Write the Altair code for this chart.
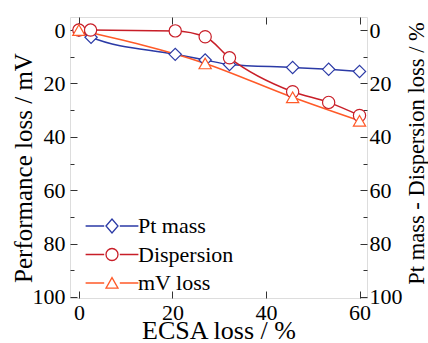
import altair as alt
import pandas as pd

# ECSA loss (%) and the three loss curves
ecsa_pt = [0, 2.6, 20.6, 27.0, 32.2, 45.7, 53.4, 60.0]
pt_mass = [0, 2.7, 9.1, 11.2, 12.9, 14.0, 14.7, 15.5]
ecsa_disp = [0, 2.5, 20.6, 27.0, 32.2, 45.7, 53.4, 60.0]
dispersion = [0, 0, 0.3, 2.5, 10.4, 23.1, 27.1, 32.0]
ecsa_mv = [0, 27.0, 45.7, 60.0]
mv_loss = [0, 12.5, 25.2, 34.0]

series_names = ["Pt mass", "Dispersion", "mV loss"]
series_colors = ["#2b3aa6", "#c81e28", "#ff5a28"]
plot_shapes = ["diamond", "circle", "triangle-up"]
# legend glyphs: marker with a short line on each side
legend_shapes = [
    "M-4.4,0H-1.3M1.3,0H4.4M-1,0L0,-1.17L1,0L0,1.17Z",
    "M-4.4,0H-1.3M1.3,0H4.4M1,0A1,1,0,1,1,-1,0A1,1,0,1,1,1,0Z",
    "M-4.4,0H-1.3M1.3,0H4.4M0,-0.9L-1,0.85L1,0.85Z",
]

y_major = [0, 20, 40, 60, 80, 100]
y_minor = [10, 30, 50, 70, 90]
x_major = [0, 20, 40, 60]

rows = []
for name, xs, ys in [("Pt mass", ecsa_pt, pt_mass),
                     ("Dispersion", ecsa_disp, dispersion),
                     ("mV loss", ecsa_mv, mv_loss)]:
    for a, b in zip(xs, ys):
        rows.append({"series": name, "ecsa": a, "loss": b})
df = pd.DataFrame(rows)

FONT = "Liberation Serif"
x_scale = alt.Scale(domain=[-1.9, 61.6], nice=False, zero=False)
y_scale = alt.Scale(domain=[-4.9, 100.4], reverse=True, nice=False, zero=False)
col_scale = alt.Scale(domain=series_names, range=series_colors)


def axis(orient, values, size, labels=True, title=None, **kw):
    # ticks point into the plot (negative tick length)
    return alt.Axis(
        orient=orient, values=values, domain=False, grid=False,
        ticks=True, tickSize={"expr": str(-size)}, tickColor="#333333",
        tickWidth=1, labels=labels, labelFont=FONT, labelFontSize=22,
        labelColor="black", title=title, titleFont=FONT,
        titleFontWeight="normal", titleColor="black", **kw)


lines = alt.Chart(df).mark_line(interpolate="monotone", strokeWidth=1.5).encode(
    x=alt.X("ecsa:Q", scale=x_scale,
            axis=axis("bottom", x_major, 7, title="ECSA loss / %",
                      labelPadding=11.5, titleFontSize=26,
                      titleX=148.5, titleY=40, titleAlign="center",
                      titleBaseline="alphabetic")),
    y=alt.Y("loss:Q", scale=y_scale,
            axis=axis("left", y_major, 7, title="Performance loss / mV",
                      labelPadding=12, titleFontSize=25, titleAngle=270,
                      titleX=-39, titleY=150.5, titleAlign="center",
                      titleBaseline="alphabetic")),
    color=alt.Color("series:N", scale=col_scale, legend=None),
)

points = alt.Chart(df).mark_point(
    filled=True, fill="white", opacity=1, size=150, strokeWidth=1.2
).encode(
    x=alt.X("ecsa:Q", scale=x_scale, axis=None),
    y=alt.Y("loss:Q", scale=y_scale, axis=None),
    stroke=alt.Stroke("series:N", scale=col_scale, legend=None),
    shape=alt.Shape("series:N", scale=alt.Scale(domain=series_names, range=plot_shapes),
                    legend=None),
)

legend_opts = dict(orient="none", legendX=31, legendY=198, title=None,
                   labelFont=FONT, labelFontSize=22, labelColor="black",
                   symbolSize=144, symbolStrokeWidth=1.3, labelOffset=15,
                   rowPadding=6.5)

legend_layer = alt.Chart(df).transform_filter("false").mark_point(
    filled=True, fill="white", opacity=1, size=144, strokeWidth=1.3
).encode(
    stroke=alt.Stroke("series:N", scale=col_scale, legend=alt.Legend(**legend_opts)),
    shape=alt.Shape("series:N", scale=alt.Scale(domain=series_names, range=legend_shapes),
                    legend=alt.Legend(**legend_opts)),
)


def axis_only(xax, yax):
    return alt.Chart(df).mark_point(opacity=0, size=1).encode(
        x=alt.X("ecsa:Q", scale=x_scale, axis=xax),
        y=alt.Y("loss:Q", scale=y_scale, axis=yax),
    )


left_minor = axis_only(None, axis("left", y_minor, 4, labels=False))
right_major = axis_only(None, axis("right", y_major, 7,
                                   title="Pt mass - Dispersion loss / %",
                                   labelPadding=9, titleFontSize=22.5, titleAngle=270,
                                   titleX=56, titleY=136, titleAlign="center",
                                   titleBaseline="alphabetic"))
right_minor = axis_only(None, axis("right", y_minor, 4, labels=False))
top_major = axis_only(axis("top", x_major, 7, labels=False), None)

chart = alt.layer(
    lines, points, legend_layer, left_minor, right_major, right_minor, top_major
).resolve_scale(
    stroke="independent", shape="independent"
).resolve_axis(
    x="independent", y="independent"
).properties(
    width=297, height=281,
    autosize=alt.AutoSizeParams(type="none"),
    padding={"left": 70, "top": 17, "right": 61, "bottom": 45},
).configure_view(
    stroke="#333333", strokeWidth=1
).configure(background="white")

chart.save("out.html", embed_options={"renderer": "svg", "actions": False})
